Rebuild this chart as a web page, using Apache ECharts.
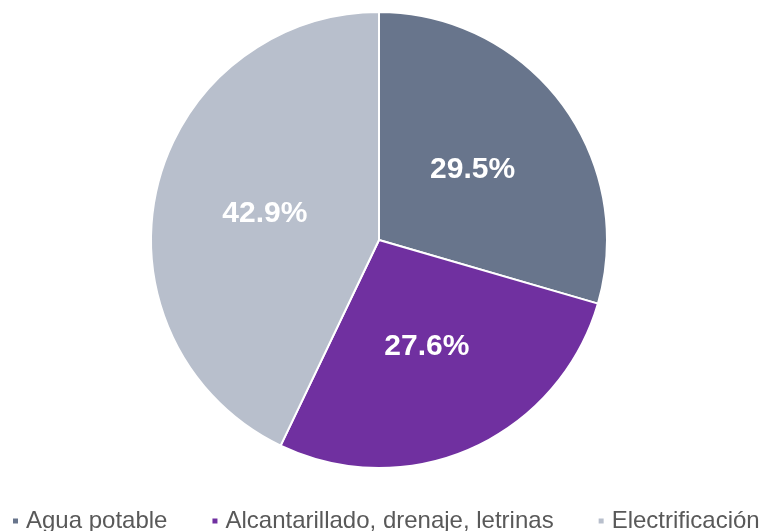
<!DOCTYPE html>
<html><head><meta charset="utf-8">
<script src="https://cdn.jsdelivr.net/npm/echarts@6/dist/echarts.min.js"></script>
<style>html,body{margin:0;padding:0;background:#fff}#c{width:762px;height:531px}</style>
</head><body><div id="c"></div>
<script>
const categories = ['Agua potable', 'Alcantarillado, drenaje, letrinas', 'Electrificación'];
const values = [29.5, 27.6, 42.9];
const colors = ['#68758C', '#7030A0', '#B8BFCC'];

const chart = echarts.init(document.getElementById('c'));
chart.setOption({
  animation: false,
  color: colors,
  legend: {
    data: categories,
    left: 11,
    top: 509,
    width: 800,
    padding: 0,
    icon: 'rect',
    itemWidth: 7,
    itemHeight: 7,
    itemGap: 43,
    textStyle: { fontFamily: 'Liberation Sans, Arial, sans-serif', fontSize: 24, color: '#595959', padding: [0, 0, 0, 2] }
  },
  series: [{
    type: 'pie',
    center: [379, 240],
    radius: [0, 228],
    startAngle: 90,
    clockwise: true,
    itemStyle: { borderColor: '#fff', borderWidth: 2 },
    label: {
      position: 'inside',
      formatter: p => p.value.toFixed(1) + '%',
      color: '#fff',
      fontWeight: 'bold',
      fontSize: 30,
      fontFamily: 'Liberation Sans, Arial, sans-serif'
    },
    labelLine: { show: false },
    data: categories.map((n, i) => ({ name: n, value: values[i] }))
  }]
});
</script></body></html>
